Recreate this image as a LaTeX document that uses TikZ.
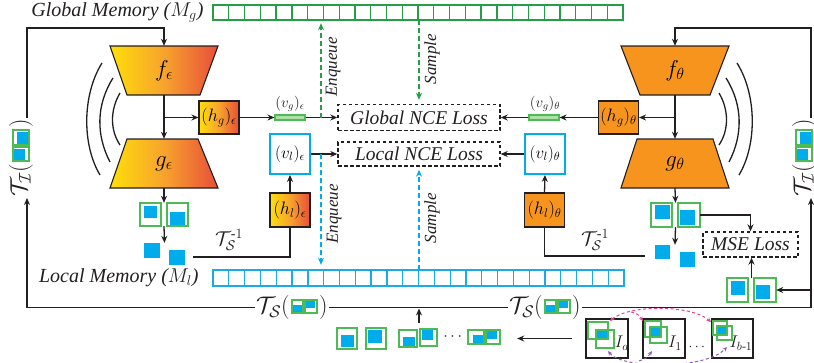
\RequirePackage{fix-cm}
\documentclass[tikz,border=0pt]{standalone}
\usepackage{amsmath}
\usepackage{fontspec}
\setmainfont{Liberation Serif}
\usetikzlibrary{arrows.meta,calc}

\definecolor{memgreen}{RGB}{38,158,72}
\definecolor{sqgreen}{RGB}{78,186,84}
\definecolor{barfill}{RGB}{176,224,170}
\definecolor{cyanb}{RGB}{0,172,236}
\definecolor{memblue}{RGB}{28,170,228}
\definecolor{encorange}{RGB}{247,148,30}
\definecolor{gyel}{RGB}{255,222,10}
\definecolor{gmid}{RGB}{247,163,45}
\definecolor{gred}{RGB}{232,78,58}
\definecolor{lossmag}{RGB}{236,64,150}
\definecolor{losspur}{RGB}{142,92,180}
\definecolor{ink}{RGB}{35,31,32}

\tikzset{
  tip/.style={-{Stealth[length=7pt,width=6pt]}},
  conn/.style={draw=ink, line width=1.3pt, tip},
  wire/.style={draw=ink, line width=1.3pt},
  fs/.style={font=\fontsize{#1}{#1}\selectfont},
  lossbox/.style={draw=ink, dash pattern=on 3.5pt off 2.5pt, line width=1.4pt,
    inner sep=0pt, text=ink, font=\fontsize{19.5}{22}\selectfont\itshape},
  gradfill/.style={draw=ink, line width=1.1pt, left color=gyel, right color=gred, middle color=gmid},
  orfill/.style={draw=ink, line width=1.1pt, fill=encorange},
  gradbox/.style={gradfill, inner sep=0pt, minimum width=40pt, fs=18},
  orbox/.style={orfill, inner sep=0pt, minimum width=40pt, fs=18},
  vbox/.style={draw=cyanb, line width=1.8pt, fill=white, inner sep=0pt,
    minimum width=40pt, minimum height=40pt, fs=17},
  vbar/.style={draw=sqgreen, fill=barfill, line width=1.1pt, inner sep=0pt,
    minimum width=30pt, minimum height=5pt},
  area/.style={inner sep=0pt, draw=none},
  enclab/.style={area, fs=23},
  sqv/.style={draw=sqgreen, line width=1.6pt},
  imgbox/.style={draw=ink, line width=1.5pt, inner sep=0pt, minimum width=42pt, minimum height=39pt},
  gdash/.style={draw=memgreen, line width=1.4pt, dash pattern=on 5pt off 3pt, tip},
  bdash/.style={draw=cyanb, line width=1.4pt, dash pattern=on 5pt off 3pt, tip},
  smalltip/.style={{Stealth[length=4.5pt,width=4pt]}-{Stealth[length=4.5pt,width=4pt]}},
  smallend/.style={-{Stealth[length=4.5pt,width=4pt]}},
  magdash/.style={draw=lossmag, line width=1pt, dash pattern=on 3pt off 2.5pt},
  purdash/.style={draw=losspur, line width=1pt, dash pattern=on 3pt off 2.5pt},
  memlab/.style={text=ink, font=\fontsize{20}{22}\selectfont\itshape, anchor=east},
  rotlab/.style={rotate=90, text=ink, font=\fontsize{17}{19}\selectfont\itshape},
  tlab/.style={text=ink, inner sep=1pt, fs=24},
  hpair/.pic={
    \fill[cyanb] (-11.5,-1.5) rectangle (-2.5,6.5);
    \draw[sqv, line width=1.3pt] (-12.5,-6.5) rectangle (-1.5,6.5);
    \fill[cyanb] (0.5,-6.5) rectangle (10.5,1.5);
    \draw[sqv, line width=1.3pt] (0.5,-6.5) rectangle (12.5,6.5);
  },
  vpair/.pic={
    \fill[cyanb] (-4,-14) rectangle (7,-2);
    \draw[sqv, line width=1.3pt] (-8,-16) rectangle (8,-1);
    \fill[cyanb] (-7,3) rectangle (4,14);
    \draw[sqv, line width=1.3pt] (-8,1) rectangle (8,15);
  }
}

\begin{document}
\begin{tikzpicture}[x=1pt, y=-1pt]
\useasboundingbox (0,0) rectangle (814,362);

% ---------- memory banks ----------
\node[area, minimum width=410pt, minimum height=15pt] (gm) at (418,12.5) {};
\foreach \i in {0,...,25}
  \draw[memgreen, line width=1.3pt] ({213+\i*15.77},5) rectangle ++(15.77,15);
\node[area, minimum width=411pt, minimum height=16pt] (lm) at (418.5,278) {};
\foreach \i in {0,...,25}
  \draw[memblue, line width=1.3pt] ({213+\i*15.81},270) rectangle ++(15.81,16);
\node[memlab] (gml) at (207,12) {Global Memory ($M_g$)};
\node[memlab] (lml) at (202,278) {Local Memory ($M_l$)};

% ---------- encoders ----------
\path[gradfill] (110,46) -- (218,46) -- (200,95) -- (127,95) -- cycle;
\path[gradfill] (127,139) -- (198,139) -- (218,188) -- (110,188) -- cycle;
\path[orfill] (621,46) -- (729,46) -- (710,95) -- (640,95) -- cycle;
\path[orfill] (637,139) -- (713,139) -- (729,188) -- (621,188) -- cycle;
\node[enclab, minimum width=108pt, minimum height=49pt] (fe) at (164,70.5) {$f_\epsilon$};
\node[enclab, minimum width=108pt, minimum height=49pt] (ge) at (164,163.5) {$g_\epsilon$};
\node[enclab, minimum width=108pt, minimum height=49pt] (ft) at (675,70.5) {$f_\theta$};
\node[enclab, minimum width=108pt, minimum height=49pt] (gt) at (675,163.5) {$g_\theta$};

% momentum arcs beside the encoders
\begin{scope}[draw=ink, line width=1.3pt]
  \draw (102,63) .. controls (82,95) and (82,145) .. (100,175);
  \draw (113,78) .. controls (96,105) and (96,135) .. (110,162);
  \draw (120,93) .. controls (110,110) and (110,130) .. (120,145);
  \draw (737,63) .. controls (757,95) and (757,145) .. (739,175);
  \draw (726,78) .. controls (743,105) and (743,135) .. (729,162);
  \draw (719,93) .. controls (729,110) and (729,130) .. (719,145);
\end{scope}

% ---------- projection heads ----------
\node[gradbox, minimum height=33pt] (hge) at (219,117.5) {$(h_g)_\epsilon$};
\node[orbox, minimum height=33pt] (hgt) at (618.5,117.5) {$(h_g)_\theta$};
\node[gradbox, minimum height=34pt] (hle) at (290,210) {$(h_l)_\epsilon$};
\node[orbox, minimum height=34pt] (hlt) at (544.5,210) {$(h_l)_\theta$};
\node[vbox] (vle) at (290,154) {$(v_l)_\epsilon$};
\node[vbox] (vlt) at (545,154) {$(v_l)_\theta$};
\node[vbar] (barE) at (290,117.5) {};
\node[vbar] (barT) at (544,117.5) {};
\node[fs=15, text=ink] (barEl) at (290,104) {$(v_g)_\epsilon$};
\node[fs=15, text=ink] (barTl) at (545,104) {$(v_g)_\theta$};

% ---------- losses ----------
\node[lossbox, minimum width=162pt, minimum height=26pt] (gnce) at (419,117.5) {Global NCE Loss};
\node[lossbox, minimum width=162pt, minimum height=24pt] (lnce) at (419,154) {Local NCE Loss};
\node[lossbox, minimum width=95pt, minimum height=25pt] (mse) at (750.5,244.5) {MSE Loss};

% ---------- view crops ----------
% below the online encoder
\fill[cyanb] (144,206) rectangle (157,218);
\draw[sqv] (140,203) rectangle (161,226);
\fill[cyanb] (170,212) rectangle (185,225);
\draw[sqv] (167,203) rectangle (188,226);
\fill[cyanb] (144,243) rectangle (160,258);
\fill[cyanb] (169,250) rectangle (185,265);
\node[area, minimum width=48pt, minimum height=23pt] (pairL) at (164,214.5) {};
\node[area, minimum width=41pt, minimum height=22pt] (blueL) at (164.5,254) {};
% below the target encoder
\fill[cyanb] (655,205) rectangle (670,219);
\draw[sqv] (651,203) rectangle (672,227);
\fill[cyanb] (680,210) rectangle (695,225);
\draw[sqv] (678,203) rectangle (700,227);
\fill[cyanb] (655,245) rectangle (670,259);
\fill[cyanb] (680,252) rectangle (695,267);
\node[area, minimum width=49pt, minimum height=24pt] (pairR) at (675.5,215) {};
\node[area, minimum width=40pt, minimum height=22pt] (blueR) at (675,256) {};
% input of the MSE branch
\fill[cyanb] (731,281) rectangle (745,295);
\draw[sqv] (727,278) rectangle (748,302);
\fill[cyanb] (756,285) rectangle (770,299);
\draw[sqv] (754,278) rectangle (776,302);
\node[area, minimum width=49pt, minimum height=24pt] (pairB) at (751.5,290) {};
% row of sampled crop pairs
\fill[cyanb] (341,335) rectangle (354,347);
\draw[sqv] (337,328) rectangle (357,349);
\fill[cyanb] (368,330) rectangle (382,343);
\draw[sqv] (366,328) rectangle (386,349);
\fill[cyanb] (403,337) rectangle (415,346);
\draw[sqv] (399,330) rectangle (417,347);
\fill[cyanb] (422,330) rectangle (433,340);
\draw[sqv] (420,329) rectangle (437,346);
\fill[cyanb] (473,335) rectangle (483,343);
\draw[sqv, line width=1.4pt] (468,330) rectangle (484,344);
\fill[cyanb] (487,331) rectangle (497,339);
\draw[sqv, line width=1.4pt] (486,330) rectangle (500,344);
\node[fs=16, text=ink] (rowdots) at (454,337) {$\cdots$};
\node[area, minimum width=163pt, minimum height=21pt] (rowB) at (418.5,338.5) {};

% ---------- input images ----------
\node[imgbox] (ia) at (607,338.5) {};
\node[imgbox] (i1) at (664,338.5) {};
\node[imgbox, minimum width=41pt] (ib) at (732.5,338.5) {};
\node[area, minimum width=167pt, minimum height=39pt] (imgs) at (669.5,338.5) {};
\fill[cyanb] (596,330) rectangle (608,339);
\draw[sqv] (588,322) rectangle (608,339);
\draw[sqv] (596,330) rectangle (614,348);
\fill[cyanb] (650,327) rectangle (661,337);
\draw[sqv] (645,321) rectangle (661,337);
\draw[sqv] (650,327) rectangle (667,343);
\fill[cyanb] (717,326) rectangle (727,335);
\draw[sqv] (713,321) rectangle (727,335);
\draw[sqv] (717,326) rectangle (732,340);
\node[fs=17, text=ink] (ial) at (622,343) {$I_a$};
\node[fs=17, text=ink] (i1l) at (675,343) {$I_1$};
\node[fs=17, text=ink] (ibl) at (741,343) {$I_{b\text{-}1}$};
\node[fs=14, text=ink] (imgdots) at (698,347) {$\cdots$};
\draw[magdash, smalltip] (610,321) .. controls (628,305) and (690,304) .. (711,322);
\draw[magdash, smallend] (631,312) .. controls (638,314) .. (643,321);
\draw[purdash, smalltip] (608,351) .. controls (622,369) and (705,370) .. (727,347);
\draw[purdash, smallend] (639,361) .. controls (647,358) .. (652,351);

% ---------- transformation labels ----------
% spatial transform, bottom line
\node[tlab, anchor=west] (tsLa) at (255,307.5) {$\mathcal{T}_{\mathcal{S}}($};
\pic at ($(tsLa.east)+(13.5,-1)$) {hpair};
\node[tlab, anchor=west] (tsLb) at ($(tsLa.east)+(27,0)$) {$)$};
\node[tlab, anchor=west] (tsRa) at (508,307.5) {$\mathcal{T}_{\mathcal{S}}($};
\pic at ($(tsRa.east)+(13.5,-1)$) {hpair};
\node[tlab, anchor=west] (tsRb) at ($(tsRa.east)+(27,0)$) {$)$};
% image-level transform, vertical sides
\node[tlab, rotate=90, anchor=west] (tiLa) at (21,198) {$\mathcal{T}_{\mathcal{I}}($};
\pic at ($(tiLa.east)+(0,-17)$) {vpair};
\node[tlab, rotate=90, anchor=west] (tiLb) at ($(tiLa.east)+(0,-34)$) {$)$};
\node[tlab, rotate=90, anchor=west] (tiRa) at (804,198) {$\mathcal{T}_{\mathcal{I}}($};
\pic at ($(tiRa.east)+(0,-17)$) {vpair};
\node[tlab, rotate=90, anchor=west] (tiRb) at ($(tiRa.east)+(0,-34)$) {$)$};
% inverse spatial transform
\node[fs=20, text=ink] (tinvLl) at (229,240) {$\mathcal{T}_{\mathcal{S}}^{\text{-}1}$};
\node[fs=20, text=ink] (tinvRl) at (595,240) {$\mathcal{T}_{\mathcal{S}}^{\text{-}1}$};

% ---------- helper coordinates ----------
\coordinate (lx) at (27,0);
\coordinate (rx) at (811,0);
\coordinate (topL) at (27,28);
\coordinate (topR) at (811,28);
\coordinate (eqx) at (321,0);
\coordinate (smx) at (419,0);
\coordinate (tinvL) at (193,257);
\coordinate (tinvR) at (645,256);

% ---------- connectors: online branch ----------
\draw[conn] (tiLb.east -| lx) -- (topL) -| (fe.north);
\draw[conn] (fe.south) -- (ge.north);
\draw[conn] (hge.west -| fe.south) -- (hge.west);
\draw[conn] (hge.east) -- (barE.west);
\draw[conn] (barE.east) -- (gnce.west);
\draw[conn] (ge.south) -- (pairL.north);
\draw[conn] (pairL.south) -- (blueL.north);
\draw[wire] (hle.south) |- (tinvL);
\draw[conn] (hle.north) -- (vle.south);
\draw[conn] (vle.east) -- (lnce.west);

% ---------- connectors: target branch ----------
\draw[conn] (tiRb.east -| rx) -- (topR) -| (ft.north);
\draw[conn] (ft.south) -- (gt.north);
\draw[conn] (hgt.east -| ft.south) -- (hgt.east);
\draw[conn] (hgt.west) -- (barT.east);
\draw[conn] (barT.west) -- (gnce.east);
\draw[conn] (gt.south) -- (pairR.north);
\draw[conn] (pairR.south) -- (blueR.north);
\draw[wire] (hlt.south) |- (tinvR);
\draw[conn] (hlt.north) -- (vlt.south);
\draw[conn] (vlt.west) -- (lnce.east);
\draw[conn] (pairR.east) -| (mse.north);
\draw[conn] (pairB.north) -- (pairB.north |- mse.south);

% ---------- memory queue traffic ----------
\draw[gdash, shorten >=3pt] (barE.east -| eqx) -- (gm.south -| eqx);
\draw[gdash, shorten >=4pt] (gm.south -| smx) -- (gnce.north -| smx);
\node[rotlab] (eqg) at (333,67) {Enqueue};
\node[rotlab] (smg) at (432,59) {Sample};
\draw[bdash, shorten >=5pt] (vle.east -| eqx) -- (lm.north -| eqx);
\draw[bdash, shorten >=3pt] (lm.north -| smx) -- (lnce.south -| smx);
\node[rotlab] (eqb) at (334,214) {Enqueue};
\node[rotlab] (smb) at (432,218) {Sample};

% ---------- augmentation path ----------
\draw[conn, shorten <=14pt, shorten >=17pt] (imgs.west) -- (rowB.east);
\draw[conn, shorten <=5pt, shorten >=1pt] (rowB.north -| smx) -- (tsLb.east -| smx);
\draw[wire] (tsLb.east) -- (tsRa.west);
\draw[conn] (tsLa.west) -| (tiLa.west -| lx);
\draw[conn] (tsRb.east) -| (tiRa.west -| rx);
\draw[conn] (pairB.east -| rx) -- (pairB.east);
\end{tikzpicture}
\end{document}
